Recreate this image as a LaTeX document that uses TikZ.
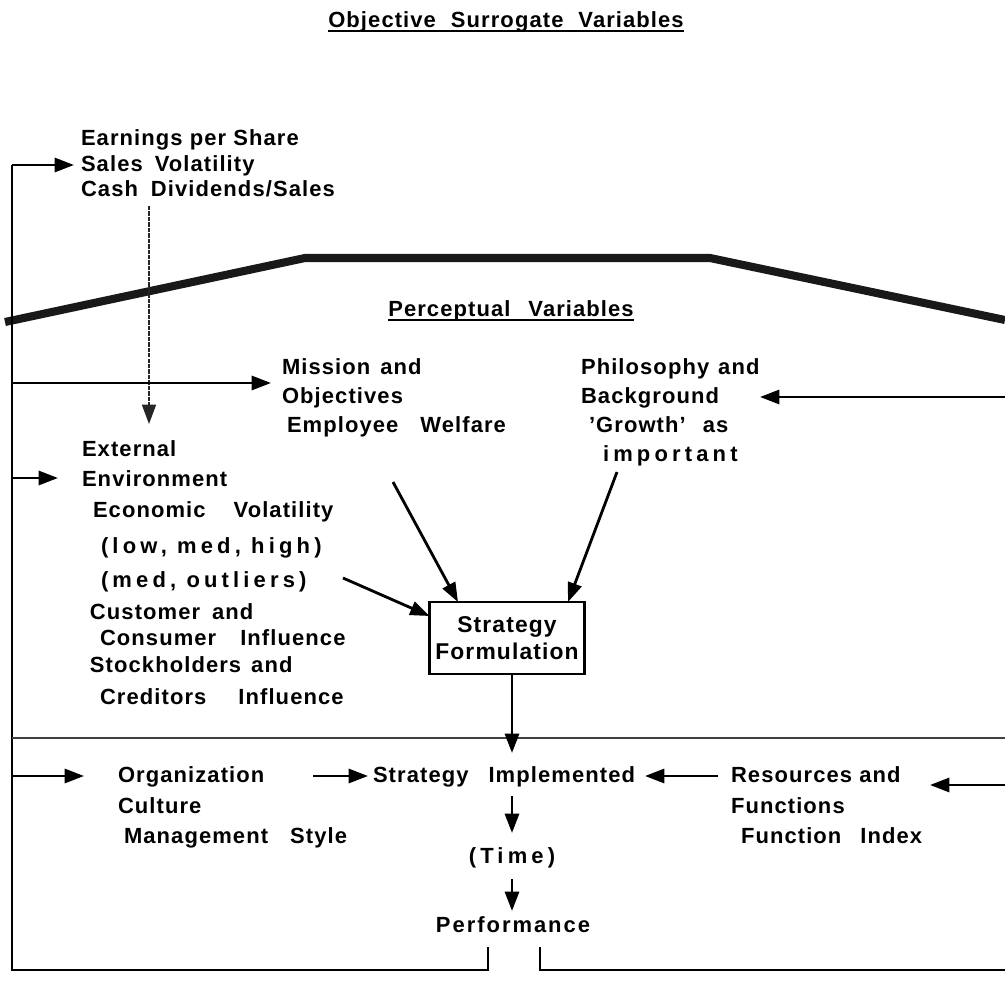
\documentclass[tikz,border=0pt]{standalone}
\usepackage{fontspec}
\setmainfont{Liberation Sans}[LetterSpace=5]
\newfontfamily\widefont{Liberation Sans}[LetterSpace=19]
\newfontfamily\midfont{Liberation Sans}[LetterSpace=9]
\usetikzlibrary{arrows.meta}
\newlength\pxu
\setlength\pxu{0.02cm}
\newcommand\gap[1]{\hspace*{#1\pxu}}
\begin{document}
\begin{tikzpicture}[x=0.02cm,y=-0.02cm,
  every node/.style={inner sep=0pt,outer sep=0pt},
  txt/.style={anchor=base west,font=\fontsize{12.5}{15}\selectfont\bfseries},
  ctxt/.style={anchor=base,font=\fontsize{12.5}{15}\selectfont\bfseries},
  tip/.style={-{Triangle[length=11pt,width=8pt]}},
  conn/.style={line width=1.6pt,tip},
  frame/.style={line width=1.2pt},
  uline/.style={line width=1.4pt},
  band/.style={line width=4.6pt,line join=round,black!90},
  thin/.style={line width=0.8pt,black!85,dash pattern=on 2.5pt off 0.6pt}]
\useasboundingbox (0,0) rectangle (1005,1000);

% headings
\node[ctxt] (objhead) at (506,28) {Objective\gap{15}Surrogate\gap{15}Variables};
\draw[uline] ([yshift=-1.6pt]objhead.base west) -- ([yshift=-1.6pt]objhead.base east);
\node[ctxt] (perhead) at (511,317) {Perceptual\gap{18}Variables};
\draw[uline] ([yshift=-1.6pt]perhead.base west) -- ([yshift=-1.6pt]perhead.base east);

% objective variables
\node[txt] (eps) at (81,146) {Earnings per Share};
\node[txt] (sv)  at (81,172) {Sales\gap{12}Volatility};
\node[txt] (cd)  at (81,197) {Cash\gap{13}Dividends/Sales};

% separating band
\draw[band] (5,322) -- (305,258) -- (710,258) -- (1005,320);

% mission block
\node[txt] (mis1) at (282,375) {Mission\gap{10}and};
\node[txt] (mis2) at (282,404) {Objectives};
\node[txt] (mis3) at (287,433) {Employee\gap{22}Welfare};

% philosophy block
\node[txt] (phi1) at (581,375) {Philosophy\gap{9}and};
\node[txt] (phi2) at (581,404) {Background};
\node[txt] (phi3) at (589,433) {'Growth'\gap{17}as};
\node[txt,font=\widefont\fontsize{12.5}{15}\selectfont\bfseries] (phi4) at (603,461) {important};

% external environment block
\node[txt] (ext1) at (82,457) {External};
\node[txt] (ext2) at (82,486) {Environment};
\node[txt] (ext3) at (93,518) {Economic\gap{28}Volatility};
\node[txt,font=\widefont\fontsize{12.5}{15}\selectfont\bfseries] (ext4) at (101,553) {(low, med, high)};
\node[txt,font=\widefont\fontsize{12.5}{15}\selectfont\bfseries] (ext5) at (101,587) {(med, outliers)};
\node[txt] (ext6) at (90,619) {Customer\gap{12}and};
\node[txt] (ext7) at (100,645) {Consumer\gap{24}Influence};
\node[txt] (ext8) at (90,672) {Stockholders\gap{10}and};
\node[txt] (ext9) at (100,704) {Creditors\gap{32}Influence};

% strategy formulation
\node[draw,frame,minimum width=155*0.02cm,minimum height=72*0.02cm,align=center,
      font=\fontsize{13}{15.5}\selectfont\bfseries] (form) at (507,638) {Strategy\\Formulation};

% lower row
\node[txt] (org1) at (118,782) {Organization};
\node[txt] (org2) at (118,813) {Culture};
\node[txt] (org3) at (124,843) {Management\gap{22}Style};
\node[txt] (impl) at (373,782) {Strategy\gap{20}Implemented};
\node[txt] (res1) at (731,782) {Resources and};
\node[txt] (res2) at (731,813) {Functions};
\node[txt] (res3) at (741,843) {Function\gap{19}Index};
\node[ctxt,font=\widefont\fontsize{12.5}{15}\selectfont\bfseries] (time) at (512,863) {(Time)};
\node[ctxt,font=\midfont\fontsize{12.5}{15}\selectfont\bfseries] (perf) at (513,932) {Performance};

% free ends of the connectors
\coordinate (fbL) at (12,970);
\coordinate (fbLtop) at (12,165);
\coordinate (fbR) at (1005,970);
\coordinate (pL) at (488,947);
\coordinate (pR) at (540,947);
\coordinate (inMis) at (12,383);
\coordinate (inExt) at (12,478);
\coordinate (inOrg) at (12,776);
\coordinate (inPhi) at (1005,397);
\coordinate (inRes) at (1005,785);
\coordinate (misOut) at (393,482);
\coordinate (phiOut) at (617,472);
\coordinate (extOut) at (343,578);
\coordinate (orgOut) at (313,776);
\coordinate (resOut) at (718,776);

% feedback frame
\draw[frame] (pL) -- (488,970) -- (fbL) -- (fbLtop);
\draw[frame] (pR) -- (540,970) -- (fbR);

% level separator
\draw[line width=1.5pt,black!75] (12,738) -- (1005,738);

% objective -> external environment
\draw[thin,tip] (149,206) -- (149,424);

% feedback arrows
\draw[conn] (fbLtop) -- (74,165);
\draw[conn] (inMis) -- (271,383);
\draw[conn] (inExt) -- (58,478);
\draw[conn] (inOrg) -- (84,776);
\draw[conn] (inPhi) -- (760,397);
\draw[conn] (inRes) -- (930,785);

% into strategy formulation
\draw[conn] (misOut) -- (form.north -| 458,0);
\draw[conn] (phiOut) -- (form.north -| 568,0);
\draw[conn] (extOut) -- (form.west |- 0,616);

% formulation -> implementation -> performance
\draw[conn] (form.south -| 512,0) -- (512,753);
\draw[conn] (orgOut) -- (368,776);
\draw[conn] (resOut) -- (645,776);
\draw[conn] (512,796) -- (512,833);
\draw[conn] (512,879) -- (512,911);
\end{tikzpicture}
\end{document}
